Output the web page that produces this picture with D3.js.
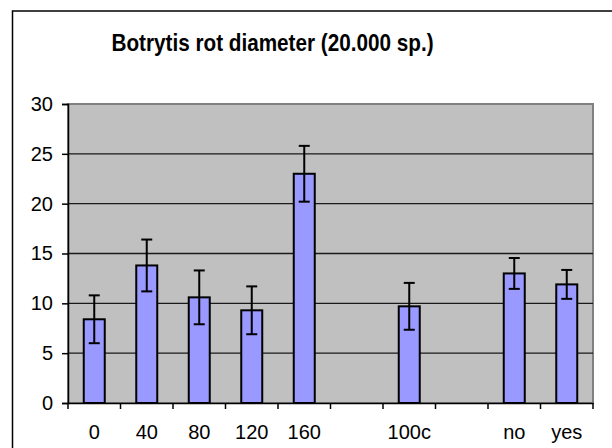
<!DOCTYPE html>
<html>
<head>
<meta charset="utf-8">
<script src="https://cdn.jsdelivr.net/npm/d3@7"></script>
<style>
  body { margin: 0; background: #fff; }
  text { font-family: "Liberation Sans", Arial, sans-serif; }
</style>
</head>
<body>
<div id="chart"></div>
<script>
// chart data
var categories = ["0", "40", "80", "120", "160", "", "100c", "", "no", "yes"];
var means = [8.4, 13.8, 10.6, 9.3, 23.0, null, 9.7, null, 13.0, 11.9];
var errors = [2.4, 2.6, 2.7, 2.4, 2.8, null, 2.35, null, 1.55, 1.45];
var yTicks = [0, 5, 10, 15, 20, 25, 30];
var title = "Botrytis rot diameter (20.000 sp.)";

var svgWidth = 612;
var svgHeight = 448;

var margin = { top: 104, right: 19, bottom: 45, left: 68 };
var width = svgWidth - margin.left - margin.right;
var height = svgHeight - margin.top - margin.bottom;

var svg = d3.select("#chart")
    .append("svg")
    .attr("width", svgWidth)
    .attr("height", svgHeight);

// outer chart border (runs off the right and bottom of the picture)
svg.append("rect")
    .attr("x", 12.5)
    .attr("y", 11)
    .attr("width", 640)
    .attr("height", 480)
    .attr("fill", "#fff")
    .attr("stroke", "#000")
    .attr("stroke-width", 1.5);

// title is a little taller and narrower than plain Arial bold
svg.append("text")
    .attr("transform", "translate(272.5, 50.5) scale(0.9, 1)")
    .attr("text-anchor", "middle")
    .attr("font-size", "23px")
    .attr("font-weight", "bold")
    .text(title);

var chartGroup = svg.append("g")
    .attr("transform", `translate(${margin.left}, ${margin.top})`);

var xBand = d3.scaleBand()
    .domain(d3.range(categories.length))
    .range([0, width])
    .paddingInner(0.6)
    .paddingOuter(0.3);

var yLinearScale = d3.scaleLinear()
    .domain([0, 30])
    .range([height, 0]);

// plot area
chartGroup.append("rect")
    .attr("width", width)
    .attr("height", height)
    .attr("fill", "#c0c0c0")
    .attr("stroke", "#808080")
    .attr("stroke-width", 2);

// gridlines
chartGroup.selectAll(".grid")
    .data(yTicks.filter(d => d > 0 && d < 30))
    .enter()
    .append("line")
    .attr("x1", 0)
    .attr("x2", width)
    .attr("y1", d => yLinearScale(d))
    .attr("y2", d => yLinearScale(d))
    .attr("stroke", "#1a1a1a")
    .attr("stroke-width", 1.3);

var data = categories.map((c, i) => ({ i: i, mean: means[i], err: errors[i] }))
    .filter(d => d.mean !== null);

// bars
chartGroup.selectAll(".bar")
    .data(data)
    .enter()
    .append("rect")
    .attr("x", d => xBand(d.i))
    .attr("width", xBand.bandwidth())
    .attr("y", d => yLinearScale(d.mean))
    .attr("height", d => height - yLinearScale(d.mean))
    .attr("fill", "#9999ff")
    .attr("stroke", "#000")
    .attr("stroke-width", 2);

// error bars
var capHalf = 5.5;
var errGroup = chartGroup.selectAll(".err")
    .data(data)
    .enter()
    .append("g")
    .attr("stroke", "#000")
    .attr("stroke-width", 2);

errGroup.append("line")
    .attr("x1", d => xBand(d.i) + xBand.bandwidth() / 2)
    .attr("x2", d => xBand(d.i) + xBand.bandwidth() / 2)
    .attr("y1", d => yLinearScale(d.mean + d.err))
    .attr("y2", d => yLinearScale(d.mean - d.err));

errGroup.selectAll(".cap")
    .data(d => [d.mean + d.err, d.mean - d.err].map(v => ({ i: d.i, v: v })))
    .enter()
    .append("line")
    .attr("x1", d => xBand(d.i) + xBand.bandwidth() / 2 - capHalf)
    .attr("x2", d => xBand(d.i) + xBand.bandwidth() / 2 + capHalf)
    .attr("y1", d => yLinearScale(d.v))
    .attr("y2", d => yLinearScale(d.v));

// y axis
var leftAxis = d3.axisLeft(yLinearScale)
    .tickValues(yTicks)
    .tickSize(6)
    .tickPadding(9);

var yAxis = chartGroup.append("g").call(leftAxis);
yAxis.select(".domain").attr("stroke", "#000").attr("stroke-width", 1.5);
yAxis.selectAll(".tick line").attr("stroke-width", 1.5);
yAxis.selectAll("text")
    .attr("font-size", "20px")
    .attr("fill", "#000");

// x axis: labels at centres, ticks at category boundaries
var bottomAxis = d3.axisBottom(xBand)
    .tickFormat(i => categories[i])
    .tickSize(0)
    .tickPadding(22);

var xAxis = chartGroup.append("g")
    .attr("transform", `translate(0, ${height})`)
    .call(bottomAxis);
xAxis.select(".domain").attr("stroke", "#000").attr("stroke-width", 1.5);
xAxis.selectAll("text")
    .attr("font-size", "20px")
    .attr("fill", "#000");

chartGroup.selectAll(".xtick")
    .data(d3.range(categories.length + 1))
    .enter()
    .append("line")
    .attr("x1", d => d * xBand.step())
    .attr("x2", d => d * xBand.step())
    .attr("y1", height)
    .attr("y2", height + 6)
    .attr("stroke", "#000")
    .attr("stroke-width", 1.5);
</script>
</body>
</html>
